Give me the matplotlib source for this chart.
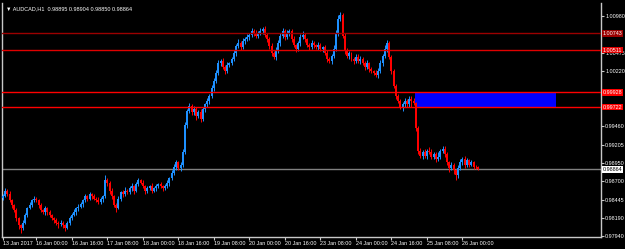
import matplotlib
matplotlib.use("Agg")
import matplotlib.pyplot as plt
import numpy as np

plt.rcParams["font.family"] = ["Liberation Sans", "DejaVu Sans"]

# AUDCAD H1 candles
closes = [
    0.9850, 0.9857, 0.9853, 0.9844, 0.9837, 0.9830, 0.9819, 0.9809, 0.9805, 0.9813,
    0.9823, 0.9833, 0.9837, 0.9844, 0.9846, 0.9844, 0.9837, 0.9830, 0.9827, 0.9833,
    0.9827, 0.9823, 0.9819, 0.9816, 0.9813, 0.9811, 0.9813, 0.9809, 0.9806, 0.9812,
    0.9819, 0.9824, 0.9827, 0.9833, 0.9835, 0.9838, 0.9844, 0.9849, 0.9846, 0.9852,
    0.9849, 0.9846, 0.9844, 0.9841, 0.9845, 0.9849, 0.9871, 0.9868, 0.9857, 0.9849,
    0.9837, 0.9833, 0.9846, 0.9855, 0.9852, 0.9857, 0.9855, 0.9860, 0.9863, 0.9857,
    0.9866, 0.9871, 0.9868, 0.9863, 0.9857, 0.9860, 0.9863, 0.9857, 0.9860, 0.9863,
    0.9866, 0.9863, 0.9860, 0.9863, 0.9868, 0.9874, 0.9882, 0.9890, 0.9896, 0.9888,
    0.9893, 0.9910, 0.9947, 0.9967, 0.9974, 0.9965, 0.9970, 0.9960, 0.9965, 0.9956,
    0.9970, 0.9976, 0.9981, 0.9988, 0.9998, 1.0009, 1.0020, 1.0033, 1.0036, 1.0028,
    1.0022, 1.0031, 1.0033, 1.0039, 1.0047, 1.0057, 1.0061, 1.0055, 1.0064, 1.0066,
    1.0069, 1.0072, 1.0077, 1.0075, 1.0071, 1.0075, 1.0077, 1.0080, 1.0072, 1.0066,
    1.0057, 1.0047, 1.0042, 1.0050, 1.0061, 1.0071, 1.0077, 1.0069, 1.0075, 1.0077,
    1.0066, 1.0058, 1.0053, 1.0061, 1.0069, 1.0072, 1.0066, 1.0058, 1.0055, 1.0061,
    1.0058, 1.0055, 1.0058, 1.0053, 1.0055, 1.0047, 1.0039, 1.0036, 1.0043, 1.0053,
    1.0075, 1.0094, 1.0099, 1.0071, 1.0050, 1.0043, 1.0047, 1.0039, 1.0036, 1.0042,
    1.0036, 1.0039, 1.0033, 1.0028, 1.0033, 1.0025, 1.0022, 1.0020, 1.0017, 1.0022,
    1.0033, 1.0043, 1.0053, 1.0061, 1.0042, 1.0022, 1.0002, 0.9988, 0.9981, 0.9973,
    0.9976, 0.9981, 0.9976, 0.9984, 0.9981, 0.9978, 0.9943, 0.9912, 0.9905, 0.9910,
    0.9905, 0.9912, 0.9910, 0.9904, 0.9908, 0.9901, 0.9904, 0.9912, 0.9915, 0.9907,
    0.9896, 0.9888, 0.9892, 0.9885, 0.9878, 0.9888, 0.9896, 0.9901, 0.9893, 0.9899,
    0.9893, 0.9896, 0.9890, 0.98895, 0.98864,
]
first_open = 0.9847

# wick lengths above / below the body, in pips
wick_up = [
    3, 4, 2, 3, 2, 2, 3, 1, 2, 4, 3, 2, 4, 2, 3, 2, 2, 3, 2, 3,
    2, 3, 2, 2, 3, 2, 4, 2, 2, 3, 3, 2, 4, 2, 3, 3, 2, 4, 2, 3,
    2, 3, 2, 4, 3, 2, 8, 3, 2, 4, 2, 3, 4, 2, 3, 5, 2, 3, 4, 2,
    3, 4, 2, 3, 2, 3, 2, 4, 2, 3, 2, 3, 2, 3, 4, 2, 3, 4, 3, 2,
    3, 4, 5, 3, 4, 3, 4, 2, 3, 4, 3, 2, 4, 3, 5, 4, 3, 5, 3, 4,
    3, 4, 2, 3, 4, 3, 5, 3, 4, 3, 4, 3, 5, 3, 4, 3, 4, 3, 4, 3,
    3, 4, 3, 5, 4, 3, 4, 3, 4, 3, 3, 4, 2, 3, 4, 5, 3, 2, 3, 4,
    3, 2, 4, 3, 2, 3, 4, 2, 3, 5, 4, 5, 4, 3, 3, 4, 3, 2, 3, 4,
    3, 4, 2, 3, 4, 2, 3, 2, 3, 4, 4, 3, 5, 4, 3, 2, 3, 2, 3, 2,
    3, 4, 3, 4, 3, 4, 2, 3, 4, 3, 4, 3, 5, 4, 3, 2, 7, 3, 4, 3,
    3, 2, 4, 3, 2, 5, 4, 3, 4, 3, 2, 3, 2, 2, 1,
]
wick_dn = [
    3, 2, 4, 3, 4, 3, 4, 5, 6, 3, 2, 3, 2, 3, 2, 3, 4, 3, 2, 3,
    3, 2, 3, 4, 3, 5, 3, 4, 5, 2, 2, 3, 2, 3, 4, 2, 3, 2, 3, 2,
    3, 2, 3, 2, 2, 3, 2, 4, 5, 3, 3, 5, 2, 3, 4, 2, 3, 2, 3, 4,
    2, 3, 2, 3, 4, 3, 2, 3, 2, 3, 3, 2, 3, 2, 3, 4, 2, 3, 5, 2,
    4, 3, 3, 4, 3, 4, 3, 5, 3, 4, 3, 4, 3, 4, 3, 4, 3, 3, 4, 3,
    4, 3, 4, 3, 3, 4, 3, 4, 3, 4, 3, 4, 3, 4, 3, 4, 3, 4, 3, 4,
    5, 4, 3, 4, 3, 4, 3, 4, 3, 4, 4, 3, 4, 3, 4, 3, 4, 3, 4, 3,
    4, 3, 4, 3, 4, 3, 4, 3, 4, 3, 3, 4, 3, 4, 4, 3, 4, 3, 4, 3,
    3, 4, 3, 4, 3, 4, 3, 4, 3, 4, 3, 4, 3, 4, 3, 4, 3, 5, 3, 4,
    6, 3, 4, 3, 8, 3, 4, 5, 3, 4, 3, 4, 3, 4, 3, 4, 3, 4, 3, 4,
    4, 5, 3, 5, 7, 4, 3, 4, 5, 3, 3, 2, 3, 3, 1,
]

x_labels = ["13 Jan 2017", "16 Jan 00:00", "16 Jan 16:00", "17 Jan 08:00",
            "18 Jan 00:00", "18 Jan 16:00", "19 Jan 08:00", "20 Jan 00:00",
            "20 Jan 16:00", "23 Jan 08:00", "24 Jan 00:00", "24 Jan 16:00",
            "25 Jan 08:00", "26 Jan 00:00"]
x_label_bars = [0, 15, 31, 47, 63, 79, 95, 111, 127, 143, 159, 175, 191, 207]

y_ticks = [0.97940, 0.98190, 0.98445, 0.98700, 0.98950, 0.99205, 0.99460,
           0.99710, 0.99965, 1.00220, 1.00475, 1.00725, 1.00980]
# these grid prices sit under the line price tags
y_hidden = [0.99710, 0.99965, 1.00725]

level_prices = [1.00743, 1.00511, 0.99928, 0.99722]
level_colors = ["#9b0000", "#e00000", "#ff0000", "#ff0000"]
current_price = 0.98864
zone_bars = (185.6, 249.0)
zone_prices = (0.99722, 0.99928)

closes = np.array(closes)
opens = np.concatenate([[first_open], closes[:-1]])
opens[-1] = 0.98895
highs = np.maximum(opens, closes) + np.array(wick_up) * 0.0001
lows = np.minimum(opens, closes) - np.array(wick_dn) * 0.0001
highs[-1] = 0.98904
lows[-1] = 0.98850
idx = np.arange(len(closes))

fig = plt.figure(figsize=(6.25, 2.49), dpi=100, facecolor="black")
ax = fig.add_axes([2 / 625, 12 / 249, 599 / 625, 234 / 249], facecolor="black")

bull = closes >= opens
colors = np.where(bull, "#1e90ff", "#ff0000")
ax.vlines(idx, lows, highs, colors=colors, linewidth=0.7, zorder=3)
body_h = np.maximum(np.abs(closes - opens), 0.00003)
ax.bar(idx, body_h, bottom=np.minimum(opens, closes), width=0.9,
       color=colors, linewidth=0, zorder=3)

# blue zone
ax.fill_between(zone_bars, zone_prices[0], zone_prices[1], color="#0000ff",
                linewidth=0, zorder=2)

for p, c in zip(level_prices, level_colors):
    ax.axhline(p, color=c, linewidth=1.0, zorder=4)
ax.axhline(current_price, color="#808080", linewidth=1.0, zorder=1)

ax.set_xlim(-0.45, 269.4)
ax.set_ylim(0.97930, 1.01160)

for s in ["left", "right", "bottom"]:
    ax.spines[s].set_color("#c8c8c8")
    ax.spines[s].set_linewidth(1.0)
ax.spines["top"].set_visible(False)

ax.yaxis.tick_right()
ax.set_yticks(y_ticks)
ax.set_yticklabels(["" if v in y_hidden else f"{v:.5f}" for v in y_ticks])
ax.set_xticks(x_label_bars)
ax.set_xticklabels(x_labels, ha="left")
ax.tick_params(axis="both", colors="#c8c8c8", labelcolor="white",
               labelsize=3.9, length=2, width=0.8, pad=1)

# price labels on the right axis
for p, c in zip(level_prices, level_colors):
    ax.text(1.003, p, f"{p:.5f}", transform=ax.get_yaxis_transform(),
            fontsize=3.9, color="white", va="center", ha="left", zorder=10,
            clip_on=False,
            bbox=dict(facecolor=c, edgecolor="none", pad=0.6))
ax.text(1.003, current_price, f"{current_price:.5f}",
        transform=ax.get_yaxis_transform(), fontsize=3.9, color="black",
        va="center", ha="left", zorder=10, clip_on=False,
        bbox=dict(facecolor="white", edgecolor="none", pad=0.6))

ax.text(0.006, 0.985, "\u25bc AUDCAD,H1  0.98895 0.98904 0.98850 0.98864",
        transform=ax.transAxes, fontsize=4, color="white", va="top", ha="left")

fig.savefig("out.png", dpi=100, facecolor="black")
